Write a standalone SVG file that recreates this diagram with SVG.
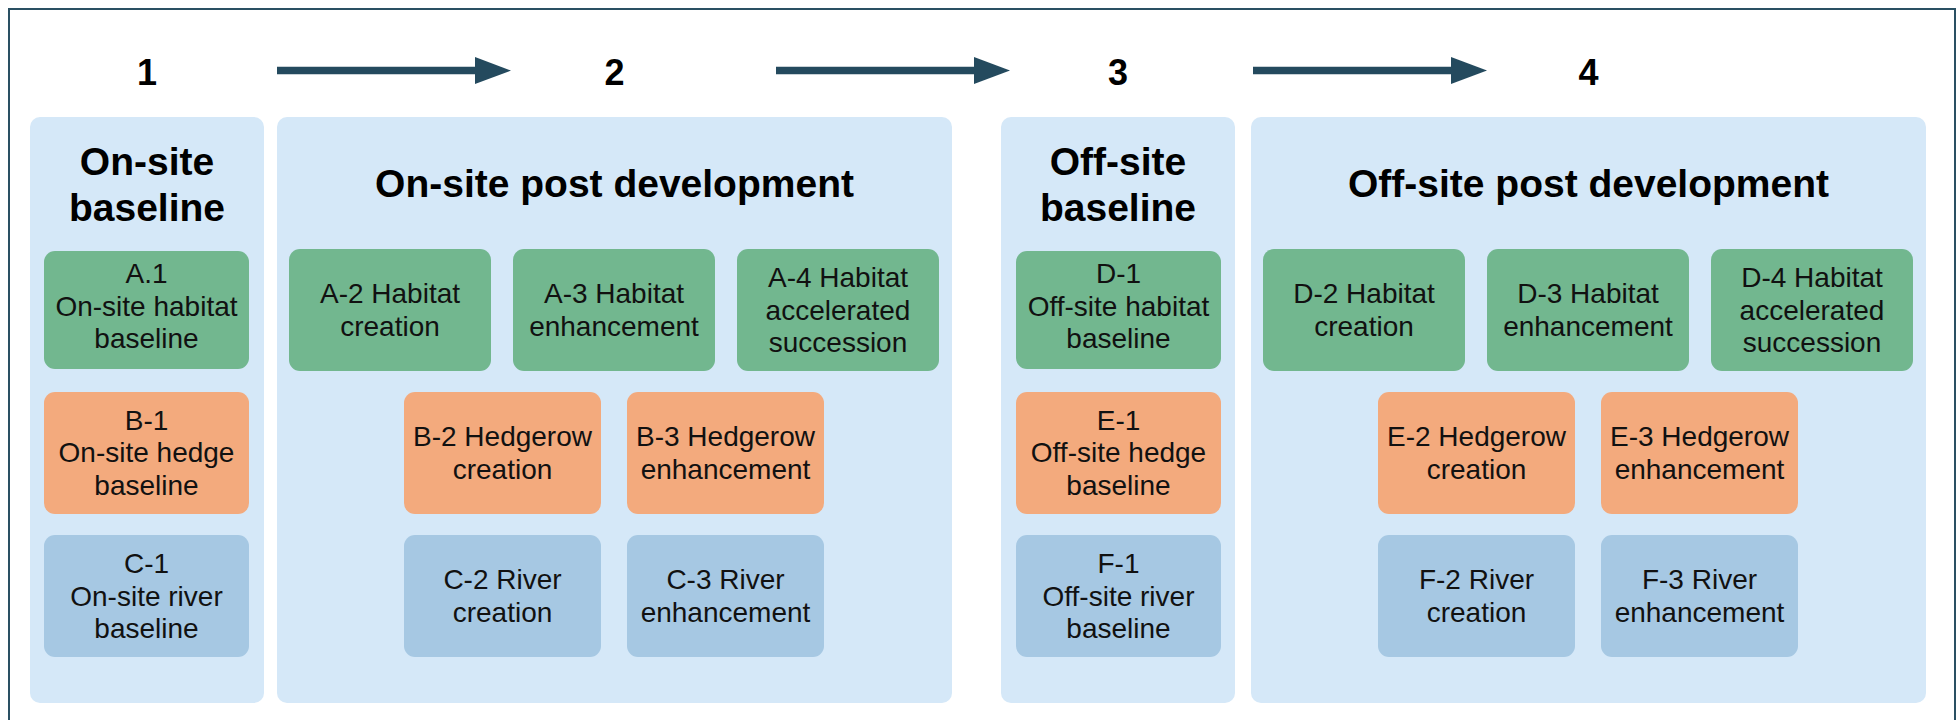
<svg xmlns="http://www.w3.org/2000/svg" width="1959" height="720" viewBox="0 0 1959 720">
<style>
.frame{fill:none;stroke:#2a5063;stroke-width:2}
.panel{fill:#d5e8f8}
.num{font-family:"Liberation Sans",Arial,Helvetica,sans-serif;font-weight:bold;font-size:36px;text-anchor:middle;fill:#000}
.title{font-family:"Liberation Sans",Arial,Helvetica,sans-serif;font-weight:bold;font-size:39px;text-anchor:middle;fill:#000}
.lbl{font-family:"Liberation Sans",Arial,Helvetica,sans-serif;font-size:28px;text-anchor:middle;fill:#111}
.g{fill:#72b78f}
.o{fill:#f3aa7d}
.b{fill:#a6c8e3}
.arrow{stroke:#244a5e;stroke-width:7.5;fill:none;marker-end:url(#ah)}
</style>
<defs>
<marker id="ah" markerUnits="userSpaceOnUse" markerWidth="36" markerHeight="27" viewBox="0 0 36 27" refX="2" refY="13.5" orient="auto">
<path d="M0,0 L36,13.5 L0,27 z" fill="#244a5e"/>
</marker>
</defs>
<rect x="0" y="0" width="1959" height="720" fill="#ffffff"/>
<path class="frame" d="M9,730 L9,9 L1955,9 L1955,730"/>

<g id="connectors">
<line class="arrow" x1="277" y1="70.5" x2="477" y2="70.5"/>
<line class="arrow" x1="776" y1="70.5" x2="976" y2="70.5"/>
<line class="arrow" x1="1253" y1="70.5" x2="1453" y2="70.5"/>
</g>

<g id="step-numbers">
<text class="num" x="147" y="85">1</text>
<text class="num" x="614.5" y="85">2</text>
<text class="num" x="1118" y="85">3</text>
<text class="num" x="1588.5" y="85">4</text>
</g>

<g id="panel-onsite-baseline">
<rect class="panel" x="30" y="117" width="234" height="586" rx="10"/>
<text class="title" x="147" y="175">On-site</text>
<text class="title" x="147" y="221">baseline</text>
</g>
<g id="panel-onsite-post">
<rect class="panel" x="277" y="117" width="675" height="586" rx="10"/>
<text class="title" x="614.5" y="197">On-site post development</text>
</g>
<g id="panel-offsite-baseline">
<rect class="panel" x="1001" y="117" width="234" height="586" rx="10"/>
<text class="title" x="1118" y="175">Off-site</text>
<text class="title" x="1118" y="221">baseline</text>
</g>
<g id="panel-offsite-post">
<rect class="panel" x="1251" y="117" width="675" height="586" rx="10"/>
<text class="title" x="1588.5" y="197">Off-site post development</text>
</g>

<!-- Panel 1 -->
<g id="A1"><rect class="g" x="44" y="251" width="205" height="118" rx="11"/>
<text class="lbl" x="146.5" y="283">A.1</text><text class="lbl" x="146.5" y="315.5">On-site habitat</text><text class="lbl" x="146.5" y="348">baseline</text></g>
<g id="B1"><rect class="o" x="44" y="392" width="205" height="122" rx="11"/>
<text class="lbl" x="146.5" y="430">B-1</text><text class="lbl" x="146.5" y="462">On-site hedge</text><text class="lbl" x="146.5" y="495">baseline</text></g>
<g id="C1"><rect class="b" x="44" y="535" width="205" height="122" rx="11"/>
<text class="lbl" x="146.5" y="573">C-1</text><text class="lbl" x="146.5" y="606">On-site river</text><text class="lbl" x="146.5" y="638">baseline</text></g>

<!-- Panel 2 -->
<g id="A2"><rect class="g" x="289" y="249" width="202" height="122" rx="11"/>
<text class="lbl" x="390" y="303">A-2 Habitat</text><text class="lbl" x="390" y="336">creation</text></g>
<g id="A3"><rect class="g" x="513" y="249" width="202" height="122" rx="11"/>
<text class="lbl" x="614" y="303">A-3 Habitat</text><text class="lbl" x="614" y="336">enhancement</text></g>
<g id="A4"><rect class="g" x="737" y="249" width="202" height="122" rx="11"/>
<text class="lbl" x="838" y="287">A-4 Habitat</text><text class="lbl" x="838" y="319.5">accelerated</text><text class="lbl" x="838" y="352">succession</text></g>
<g id="B2"><rect class="o" x="404" y="392" width="197" height="122" rx="11"/>
<text class="lbl" x="502.5" y="446">B-2 Hedgerow</text><text class="lbl" x="502.5" y="479">creation</text></g>
<g id="B3"><rect class="o" x="627" y="392" width="197" height="122" rx="11"/>
<text class="lbl" x="725.5" y="446">B-3 Hedgerow</text><text class="lbl" x="725.5" y="479">enhancement</text></g>
<g id="C2"><rect class="b" x="404" y="535" width="197" height="122" rx="11"/>
<text class="lbl" x="502.5" y="589">C-2 River</text><text class="lbl" x="502.5" y="622">creation</text></g>
<g id="C3"><rect class="b" x="627" y="535" width="197" height="122" rx="11"/>
<text class="lbl" x="725.5" y="589">C-3 River</text><text class="lbl" x="725.5" y="622">enhancement</text></g>

<!-- Panel 3 -->
<g id="D1"><rect class="g" x="1016" y="251" width="205" height="118" rx="11"/>
<text class="lbl" x="1118.5" y="283">D-1</text><text class="lbl" x="1118.5" y="315.5">Off-site habitat</text><text class="lbl" x="1118.5" y="348">baseline</text></g>
<g id="E1"><rect class="o" x="1016" y="392" width="205" height="122" rx="11"/>
<text class="lbl" x="1118.5" y="430">E-1</text><text class="lbl" x="1118.5" y="462">Off-site hedge</text><text class="lbl" x="1118.5" y="495">baseline</text></g>
<g id="F1"><rect class="b" x="1016" y="535" width="205" height="122" rx="11"/>
<text class="lbl" x="1118.5" y="573">F-1</text><text class="lbl" x="1118.5" y="606">Off-site river</text><text class="lbl" x="1118.5" y="638">baseline</text></g>

<!-- Panel 4 -->
<g id="D2"><rect class="g" x="1263" y="249" width="202" height="122" rx="11"/>
<text class="lbl" x="1364" y="303">D-2 Habitat</text><text class="lbl" x="1364" y="336">creation</text></g>
<g id="D3"><rect class="g" x="1487" y="249" width="202" height="122" rx="11"/>
<text class="lbl" x="1588" y="303">D-3 Habitat</text><text class="lbl" x="1588" y="336">enhancement</text></g>
<g id="D4"><rect class="g" x="1711" y="249" width="202" height="122" rx="11"/>
<text class="lbl" x="1812" y="287">D-4 Habitat</text><text class="lbl" x="1812" y="319.5">accelerated</text><text class="lbl" x="1812" y="352">succession</text></g>
<g id="E2"><rect class="o" x="1378" y="392" width="197" height="122" rx="11"/>
<text class="lbl" x="1476.5" y="446">E-2 Hedgerow</text><text class="lbl" x="1476.5" y="479">creation</text></g>
<g id="E3"><rect class="o" x="1601" y="392" width="197" height="122" rx="11"/>
<text class="lbl" x="1699.5" y="446">E-3 Hedgerow</text><text class="lbl" x="1699.5" y="479">enhancement</text></g>
<g id="F2"><rect class="b" x="1378" y="535" width="197" height="122" rx="11"/>
<text class="lbl" x="1476.5" y="589">F-2 River</text><text class="lbl" x="1476.5" y="622">creation</text></g>
<g id="F3"><rect class="b" x="1601" y="535" width="197" height="122" rx="11"/>
<text class="lbl" x="1699.5" y="589">F-3 River</text><text class="lbl" x="1699.5" y="622">enhancement</text></g>
</svg>
